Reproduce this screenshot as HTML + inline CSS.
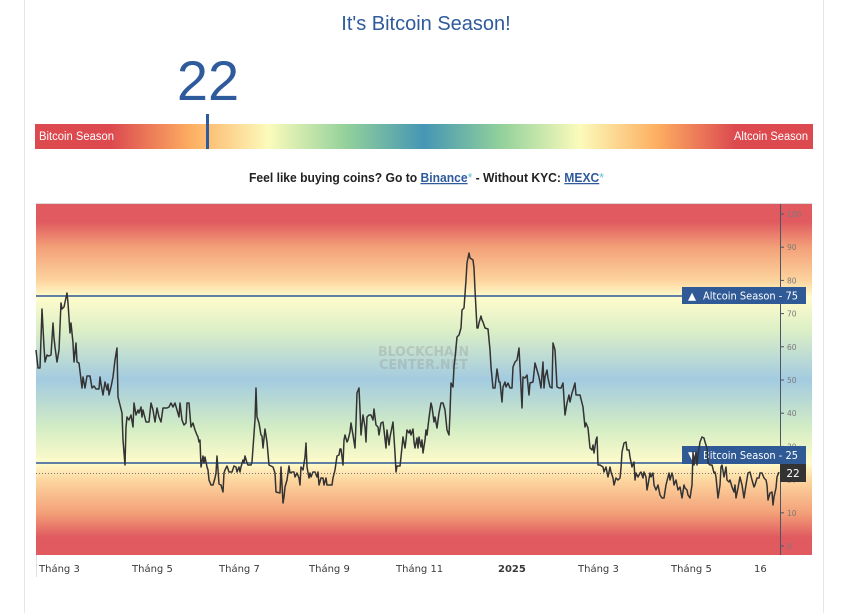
<!DOCTYPE html>
<html><head><meta charset="utf-8"><style>
html,body{margin:0;padding:0;background:#fff;}
svg{display:block;}
</style></head><body>
<svg width="853" height="613" viewBox="0 0 853 613" xmlns="http://www.w3.org/2000/svg">
<defs>
<linearGradient id="gbar" gradientUnits="userSpaceOnUse" x1="35" y1="0" x2="813" y2="0">
<stop offset="0" stop-color="#dc4a50"/>
<stop offset="0.098" stop-color="#dc4a50"/>
<stop offset="0.20" stop-color="#fdae61"/>
<stop offset="0.30" stop-color="#fbfbbb"/>
<stop offset="0.40" stop-color="#93d19b"/>
<stop offset="0.50" stop-color="#4596b4"/>
<stop offset="0.60" stop-color="#93d19b"/>
<stop offset="0.70" stop-color="#fbfbbb"/>
<stop offset="0.80" stop-color="#fdae61"/>
<stop offset="0.90" stop-color="#dc4a50"/>
<stop offset="1" stop-color="#dc4a50"/>
</linearGradient>
<linearGradient id="gplot" gradientUnits="userSpaceOnUse" x1="0" y1="204" x2="0" y2="555">
<stop offset="0" stop-color="#e05a5f"/>
<stop offset="0.05" stop-color="#e05a5f"/>
<stop offset="0.123" stop-color="#f3a078"/>
<stop offset="0.218" stop-color="#fdd49e"/>
<stop offset="0.265" stop-color="#fffccc"/>
<stop offset="0.36" stop-color="#dcefc6"/>
<stop offset="0.50" stop-color="#a3cbe0"/>
<stop offset="0.64" stop-color="#d4edc4"/>
<stop offset="0.738" stop-color="#fffbcb"/>
<stop offset="0.785" stop-color="#fdd7a0"/>
<stop offset="0.88" stop-color="#f3a078"/>
<stop offset="0.95" stop-color="#e05a5f"/>
<stop offset="1" stop-color="#e05a5f"/>
</linearGradient>
</defs>

<!-- card borders -->
<line x1="24.5" y1="0" x2="24.5" y2="613" stroke="#e6e6e6" stroke-width="1"/>
<line x1="823.5" y1="0" x2="823.5" y2="613" stroke="#e6e6e6" stroke-width="1"/>

<!-- title -->
<text x="426" y="30" text-anchor="middle" font-family="Liberation Sans, sans-serif" font-size="20" fill="#2f5b9c">It's Bitcoin Season!</text>

<!-- big number -->
<text x="208" y="100" text-anchor="middle" font-family="Liberation Sans, sans-serif" font-size="56" fill="#2f5b9c">22</text>

<!-- gauge bar -->
<rect x="35" y="124" width="778" height="25" fill="url(#gbar)"/>
<text x="39" y="140" font-family="Liberation Sans, sans-serif" font-size="11.5" fill="#fff" textLength="75" lengthAdjust="spacingAndGlyphs">Bitcoin Season</text>
<text x="734" y="140" font-family="Liberation Sans, sans-serif" font-size="11.5" fill="#fff" textLength="74" lengthAdjust="spacingAndGlyphs">Altcoin Season</text>
<rect x="206" y="114" width="3" height="35" fill="#2f5b9c"/>

<!-- subtitle -->
<text x="249" y="182" font-family="Liberation Sans, sans-serif" font-size="12.5" font-weight="bold" fill="#222" textLength="355" lengthAdjust="spacingAndGlyphs">Feel like buying coins? Go to <tspan fill="#2f5b9c" text-decoration="underline">Binance</tspan><tspan fill="#5bc0de" font-weight="normal">*</tspan> - Without KYC: <tspan fill="#2f5b9c" text-decoration="underline">MEXC</tspan><tspan fill="#5bc0de" font-weight="normal">*</tspan></text>

<!-- plot background -->
<rect x="36" y="204" width="776" height="351" fill="url(#gplot)"/>
<line x1="36" y1="203.5" x2="812" y2="203.5" stroke="#dcdcdc" stroke-width="1"/>
<line x1="36.5" y1="555" x2="36.5" y2="577" stroke="#e0e0e0" stroke-width="1"/>

<!-- watermark -->
<text x="378" y="356" font-family="DejaVu Sans, sans-serif" font-size="13" font-weight="bold" fill="#8a8a8a" fill-opacity="0.3" textLength="91" lengthAdjust="spacingAndGlyphs">BLOCKCHAIN</text>
<text x="379" y="369" font-family="DejaVu Sans, sans-serif" font-size="13" font-weight="bold" fill="#8a8a8a" fill-opacity="0.3" textLength="89" lengthAdjust="spacingAndGlyphs">CENTER.NET</text>

<!-- threshold lines -->
<line x1="36" y1="296" x2="780" y2="296" stroke="#2b5797" stroke-width="1.5"/>
<line x1="36" y1="463" x2="780" y2="463" stroke="#2b5797" stroke-width="1.5"/>
<line x1="36" y1="473.5" x2="780" y2="473.5" stroke="#777" stroke-width="1" stroke-dasharray="1,2"/>

<!-- right axis -->
<line x1="780.5" y1="204" x2="780.5" y2="555" stroke="#4a5568" stroke-width="1"/>
<g stroke="#4a5568" stroke-width="1">
<line x1="780" y1="214" x2="784" y2="214"/>
<line x1="780" y1="247.2" x2="784" y2="247.2"/>
<line x1="780" y1="280.4" x2="784" y2="280.4"/>
<line x1="780" y1="313.6" x2="784" y2="313.6"/>
<line x1="780" y1="346.8" x2="784" y2="346.8"/>
<line x1="780" y1="380" x2="784" y2="380"/>
<line x1="780" y1="413.2" x2="784" y2="413.2"/>
<line x1="780" y1="446.4" x2="784" y2="446.4"/>
<line x1="780" y1="479.6" x2="784" y2="479.6"/>
<line x1="780" y1="512.8" x2="784" y2="512.8"/>
<line x1="780" y1="546" x2="784" y2="546"/>
</g>
<g font-family="DejaVu Sans, sans-serif" font-size="7.5" fill="#7a7a7a">
<text x="787" y="217">100</text>
<text x="787" y="250">90</text>
<text x="787" y="283.5">80</text>
<text x="787" y="316.5">70</text>
<text x="787" y="350">60</text>
<text x="787" y="383">50</text>
<text x="787" y="416">40</text>
<text x="787" y="449.5">30</text>
<text x="787" y="482.5">20</text>
<text x="787" y="516">10</text>
<text x="787" y="549">0</text>
</g>

<!-- labels -->
<rect x="682" y="287" width="124" height="17" fill="#2f5a96"/>
<text x="688" y="299.5" font-family="DejaVu Sans, sans-serif" font-size="10.5" fill="#fff">▲</text>
<text x="703" y="299.5" font-family="DejaVu Sans, sans-serif" font-size="10.5" fill="#fff" textLength="95" lengthAdjust="spacingAndGlyphs">Altcoin Season - 75</text>
<rect x="682" y="446" width="124" height="18" fill="#2f5a96"/>
<text x="688" y="459" font-family="DejaVu Sans, sans-serif" font-size="10.5" fill="#fff">▼</text>
<text x="703" y="459" font-family="DejaVu Sans, sans-serif" font-size="10.5" fill="#fff" textLength="95" lengthAdjust="spacingAndGlyphs">Bitcoin Season - 25</text>
<rect x="780" y="464" width="26" height="18" fill="#333"/>
<text x="793" y="477" text-anchor="middle" font-family="DejaVu Sans, sans-serif" font-size="10.5" fill="#fff">22</text>

<!-- series -->
<polyline fill="none" stroke="#333" stroke-width="1.5" stroke-linejoin="round" points="36,350 38,368 40,368 42,309 44,347 45,362 47,355 49,356 51,355 53,323 54,338 55,347 57,362 59,350 61,303 62,309 64,307 67,293 68,303 70,333 71,323 73,343 74,362 76,343 77,362 79,363 82,388 83,377 85,388 87,376 90,376 92,388 94,386 96,389 99,389 100,377 101,384 103,395 105,382 107,390 108,384 109,395 111,387 113,377 115,360 117,348 118,397 120,405 122,413 123,440 125,465 126,427 127,417 129,420 131,415 133,427 134,403 136,415 138,410 139,413 141,407 142,417 143,410 146,422 149,422 151,403 153,410 155,422 157,408 159,417 161,422 163,408 167,408 169,407 171,403 173,407 175,403 177,410 179,417 180,403 182,420 184,425 186,423 187,403 189,403 191,427 193,423 195,430 197,435 198,437 199,442 200,440 201,467 203,456 204,463 205,457 207,467 208,470 209,480 211,485 213,485 215,478 216,473 217,456 218,470 219,484 221,485 223,492 224,473 225,470 227,466 229,472 232,472 234,466 236,467 237,472 239,467 240,472 241,467 243,460 244,463 245,456 247,463 248,465 251,465 252,462 253,448 255,420 256,388 257,417 259,423 261,435 262,436 263,448 265,429 267,442 269,465 273,467 275,473 276,492 280,493 281,467 283,503 284,497 285,487 287,480 289,466 290,473 292,472 294,472 295,477 297,473 299,478 300,485 301,467 303,470 305,457 306,443 307,467 309,478 310,473 311,477 313,472 315,472 317,477 318,472 319,485 321,478 323,478 324,485 326,478 327,485 330,485 332,485 333,478 335,470 337,456 339,455 340,449 341,449 343,465 344,440 345,435 347,442 348,440 350,432 351,423 353,435 355,448 356,423 357,393 359,388 360,410 361,435 363,415 365,427 366,442 367,417 369,415 371,415 373,420 374,409 376,425 378,427 379,435 381,423 383,422 384,430 386,448 387,430 389,445 390,437 393,422 395,453 396,472 397,466 400,466 401,457 403,437 405,448 406,440 407,430 409,433 410,430 411,435 413,429 414,442 415,448 417,438 418,448 419,437 421,447 422,440 423,453 425,440 426,430 427,435 429,418 431,403 432,407 434,422 435,417 437,428 439,413 441,403 443,403 445,410 447,430 449,435 450,413 451,383 453,387 454,367 455,358 457,337 459,335 461,328 462,310 464,308 466,280 467,263 469,253 470,258 473,260 474,268 475,290 477,328 478,328 479,323 481,316 482,320 483,322 485,328 488,329 490,350 491,367 493,388 495,388 497,369 499,382 500,382 502,402 503,387 505,382 506,387 508,383 510,388 512,388 513,367 515,362 517,360 519,348 520,367 522,408 523,377 525,378 527,375 529,395 530,383 533,382 535,363 537,370 539,377 541,388 543,362 544,388 545,377 547,370 548,378 550,387 552,388 553,343 555,350 556,368 557,387 559,388 561,388 563,383 565,415 567,403 569,395 570,402 572,393 573,390 575,383 576,395 580,395 583,407 585,427 586,423 588,428 590,448 592,450 593,445 594,453 596,440 597,437 598,465 600,465 603,467 604,472 606,467 608,477 610,467 611,472 613,478 614,485 616,478 618,480 620,478 621,468 622,452 624,443 626,442 627,450 629,450 630,457 632,467 634,462 635,480 636,473 638,477 640,473 641,472 643,478 644,472 646,477 647,490 648,485 650,473 651,477 653,473 654,485 656,490 658,485 660,495 662,498 664,498 666,485 668,477 669,473 670,480 672,473 673,477 674,485 676,480 678,490 680,487 682,498 684,485 685,488 687,490 688,495 690,498 692,485 693,452 694,465 696,452 697,465 698,455 700,442 702,437 704,438 705,442 707,448 708,463 710,465 712,465 714,473 715,472 716,477 718,498 720,485 721,467 722,465 724,477 726,467 727,480 729,482 730,480 732,487 734,492 735,485 736,498 738,488 740,477 742,485 744,498 746,485 748,473 750,472 752,480 754,487 755,485 757,478 759,478 760,473 762,473 764,478 766,480 767,485 768,500 770,493 772,492 773,505 774,497 776,488 777,477 779,472"/>

<!-- x axis labels -->
<g font-family="DejaVu Sans, sans-serif" font-size="10" fill="#3a3a3a">
<text x="39" y="572">Tháng 3</text>
<text x="132" y="572">Tháng 5</text>
<text x="219" y="572">Tháng 7</text>
<text x="309" y="572">Tháng 9</text>
<text x="396" y="572">Tháng 11</text>
<text x="498" y="572" font-weight="bold">2025</text>
<text x="578" y="572">Tháng 3</text>
<text x="671" y="572">Tháng 5</text>
<text x="754" y="572">16</text>
</g>
</svg>
</body></html>
